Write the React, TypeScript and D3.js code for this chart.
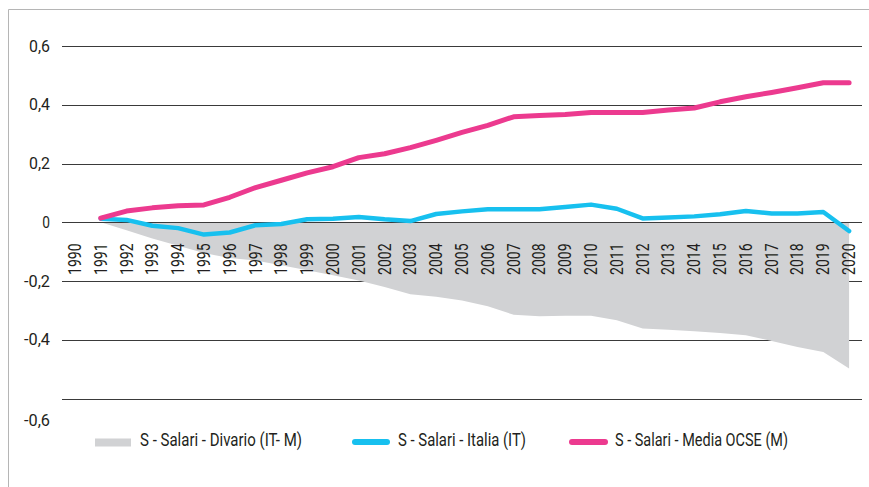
import React from "react";
import * as d3 from "d3";

const years: number[] = [
  1990, 1991, 1992, 1993, 1994, 1995, 1996, 1997, 1998, 1999, 2000, 2001, 2002, 2003, 2004, 2005,
  2006, 2007, 2008, 2009, 2010, 2011, 2012, 2013, 2014, 2015, 2016, 2017, 2018, 2019, 2020,
];
const seriesYears: number[] = years.slice(1);

const italia: number[] = [
  0.012, 0.008, -0.012, -0.02, -0.042, -0.035, -0.01, -0.006, 0.01, 0.012, 0.018, 0.01, 0.004, 0.028,
  0.037, 0.044, 0.044, 0.044, 0.052, 0.06, 0.046, 0.013, 0.016, 0.02, 0.027, 0.038, 0.03, 0.03, 0.035,
  -0.03,
];
const mediaOcse: number[] = [
  0.014, 0.038, 0.049, 0.056, 0.059, 0.085, 0.118, 0.143, 0.168, 0.189, 0.22, 0.233, 0.254, 0.279,
  0.306, 0.33, 0.359, 0.363, 0.367, 0.374, 0.374, 0.374, 0.382, 0.389, 0.41, 0.427, 0.442, 0.458,
  0.475, 0.475,
];
const divario: number[] = [
  0, -0.027, -0.055, -0.08, -0.105, -0.122, -0.13, -0.146, -0.163, -0.18, -0.198, -0.22, -0.245,
  -0.254, -0.266, -0.286, -0.315, -0.32, -0.318, -0.318, -0.334, -0.362, -0.366, -0.371, -0.377,
  -0.385, -0.404, -0.425, -0.442, -0.498,
];

const yTicks: number[] = [0.6, 0.4, 0.2, 0, -0.2, -0.4, -0.6];
const yTickLabels: string[] = ["0,6", "0,4", "0,2", "0", "-0,2", "-0,4", "-0,6"];

const legendLabels: string[] = [
  "S - Salari - Divario (IT- M)",
  "S - Salari - Italia (IT)",
  "S - Salari - Media OCSE (M)",
];

const W = 869;
const H = 487;
const FONT = "Roboto, 'Noto Sans', sans-serif";
const TEXT = "#231f20";
const GRID = "#3a3a3a";
const PINK = "#ec3a8f";
const CYAN = "#17c0ef";
const GRAY = "#d1d2d4";

function labelWidth(s: string): number {
  let w = 0;
  for (const c of s) {
    if (c === ",") w += 5.6;
    else if (c === "-") w += 5;
    else w += 7.7;
  }
  return w;
}

export default function App() {
  const x = d3.scaleBand<number>().domain(years).range([62, 862]).padding(0);
  const cx = (yr: number) => (x(yr) as number) + x.bandwidth() / 2;
  const y = d3.scaleLinear().domain([-0.6, 0.6]).range([398.5, 46]);

  const line = d3
    .line<number>()
    .x((_, i) => cx(seriesYears[i]))
    .y((d) => y(d));
  const area = d3
    .area<number>()
    .x((_, i) => cx(seriesYears[i]))
    .y0(() => y(0))
    .y1((d) => y(d));

  return (
    <svg
      width={W}
      height={H}
      style={{ position: "absolute", left: 0, top: 0, background: "#fff" }}
      fontFamily={FONT}
    >
      <rect x={0} y={0} width={W} height={H} fill="#fff" />
      {/* frame */}
      <line x1={8.5} y1={9.5} x2={W} y2={9.5} stroke="#b5b5b5" strokeWidth={1} />
      <line x1={8.5} y1={9.5} x2={8.5} y2={H} stroke="#b5b5b5" strokeWidth={1} />

      {/* gridlines */}
      {yTicks
        .filter((t) => t !== 0)
        .map((t) => (
          <line key={t} x1={62} x2={862} y1={Math.round(y(t)) + 0.5} y2={Math.round(y(t)) + 0.5} stroke={GRID} strokeWidth={1} />
        ))}

      {/* area */}
      <path d={area(divario) || ""} fill={GRAY} />

      {/* zero line */}
      <line x1={62} x2={862} y1={Math.round(y(0)) + 0.5} y2={Math.round(y(0)) + 0.5} stroke={GRID} strokeWidth={1} />

      {/* y tick labels */}
      {yTicks.map((t, i) => (
        <text
          key={t}
          x={50}
          y={y(t) + 5.5 + (t === -0.6 ? 21.5 : 0)}
          textAnchor="end"
          fontSize={17}
          fill={TEXT}
          textLength={labelWidth(yTickLabels[i])}
          lengthAdjust="spacingAndGlyphs"
        >
          {yTickLabels[i]}
        </text>
      ))}

      {/* x labels */}
      {years.map((yr) => (
        <text
          key={yr}
          transform={`translate(${cx(yr)},${243.5}) rotate(-90)`}
          textAnchor="end"
          dominantBaseline="central"
          fontSize={17.5}
          fill={TEXT}
          textLength={31.5}
          lengthAdjust="spacingAndGlyphs"
        >
          {yr}
        </text>
      ))}

      {/* lines */}
      <path d={line(italia) || ""} fill="none" stroke={CYAN} strokeWidth={4.5} strokeLinejoin="round" strokeLinecap="round" />
      <path d={line(mediaOcse) || ""} fill="none" stroke={PINK} strokeWidth={5} strokeLinejoin="round" strokeLinecap="round" />

      {/* legend */}
      <rect x={95} y={438.5} width={36} height={8} fill={GRAY} />
      <text x={140} y={446} fontSize={17.5} fill={TEXT} textLength={162} lengthAdjust="spacingAndGlyphs">
        {legendLabels[0]}
      </text>
      <line x1={355} x2={387} y1={442} y2={442} stroke={CYAN} strokeWidth={6} strokeLinecap="round" />
      <text x={398} y={446} fontSize={17.5} fill={TEXT} textLength={128} lengthAdjust="spacingAndGlyphs">
        {legendLabels[1]}
      </text>
      <line x1={572} x2={605} y1={442} y2={442} stroke={PINK} strokeWidth={6} strokeLinecap="round" />
      <text x={615} y={446} fontSize={17.5} fill={TEXT} textLength={173} lengthAdjust="spacingAndGlyphs">
        {legendLabels[2]}
      </text>
    </svg>
  );
}
